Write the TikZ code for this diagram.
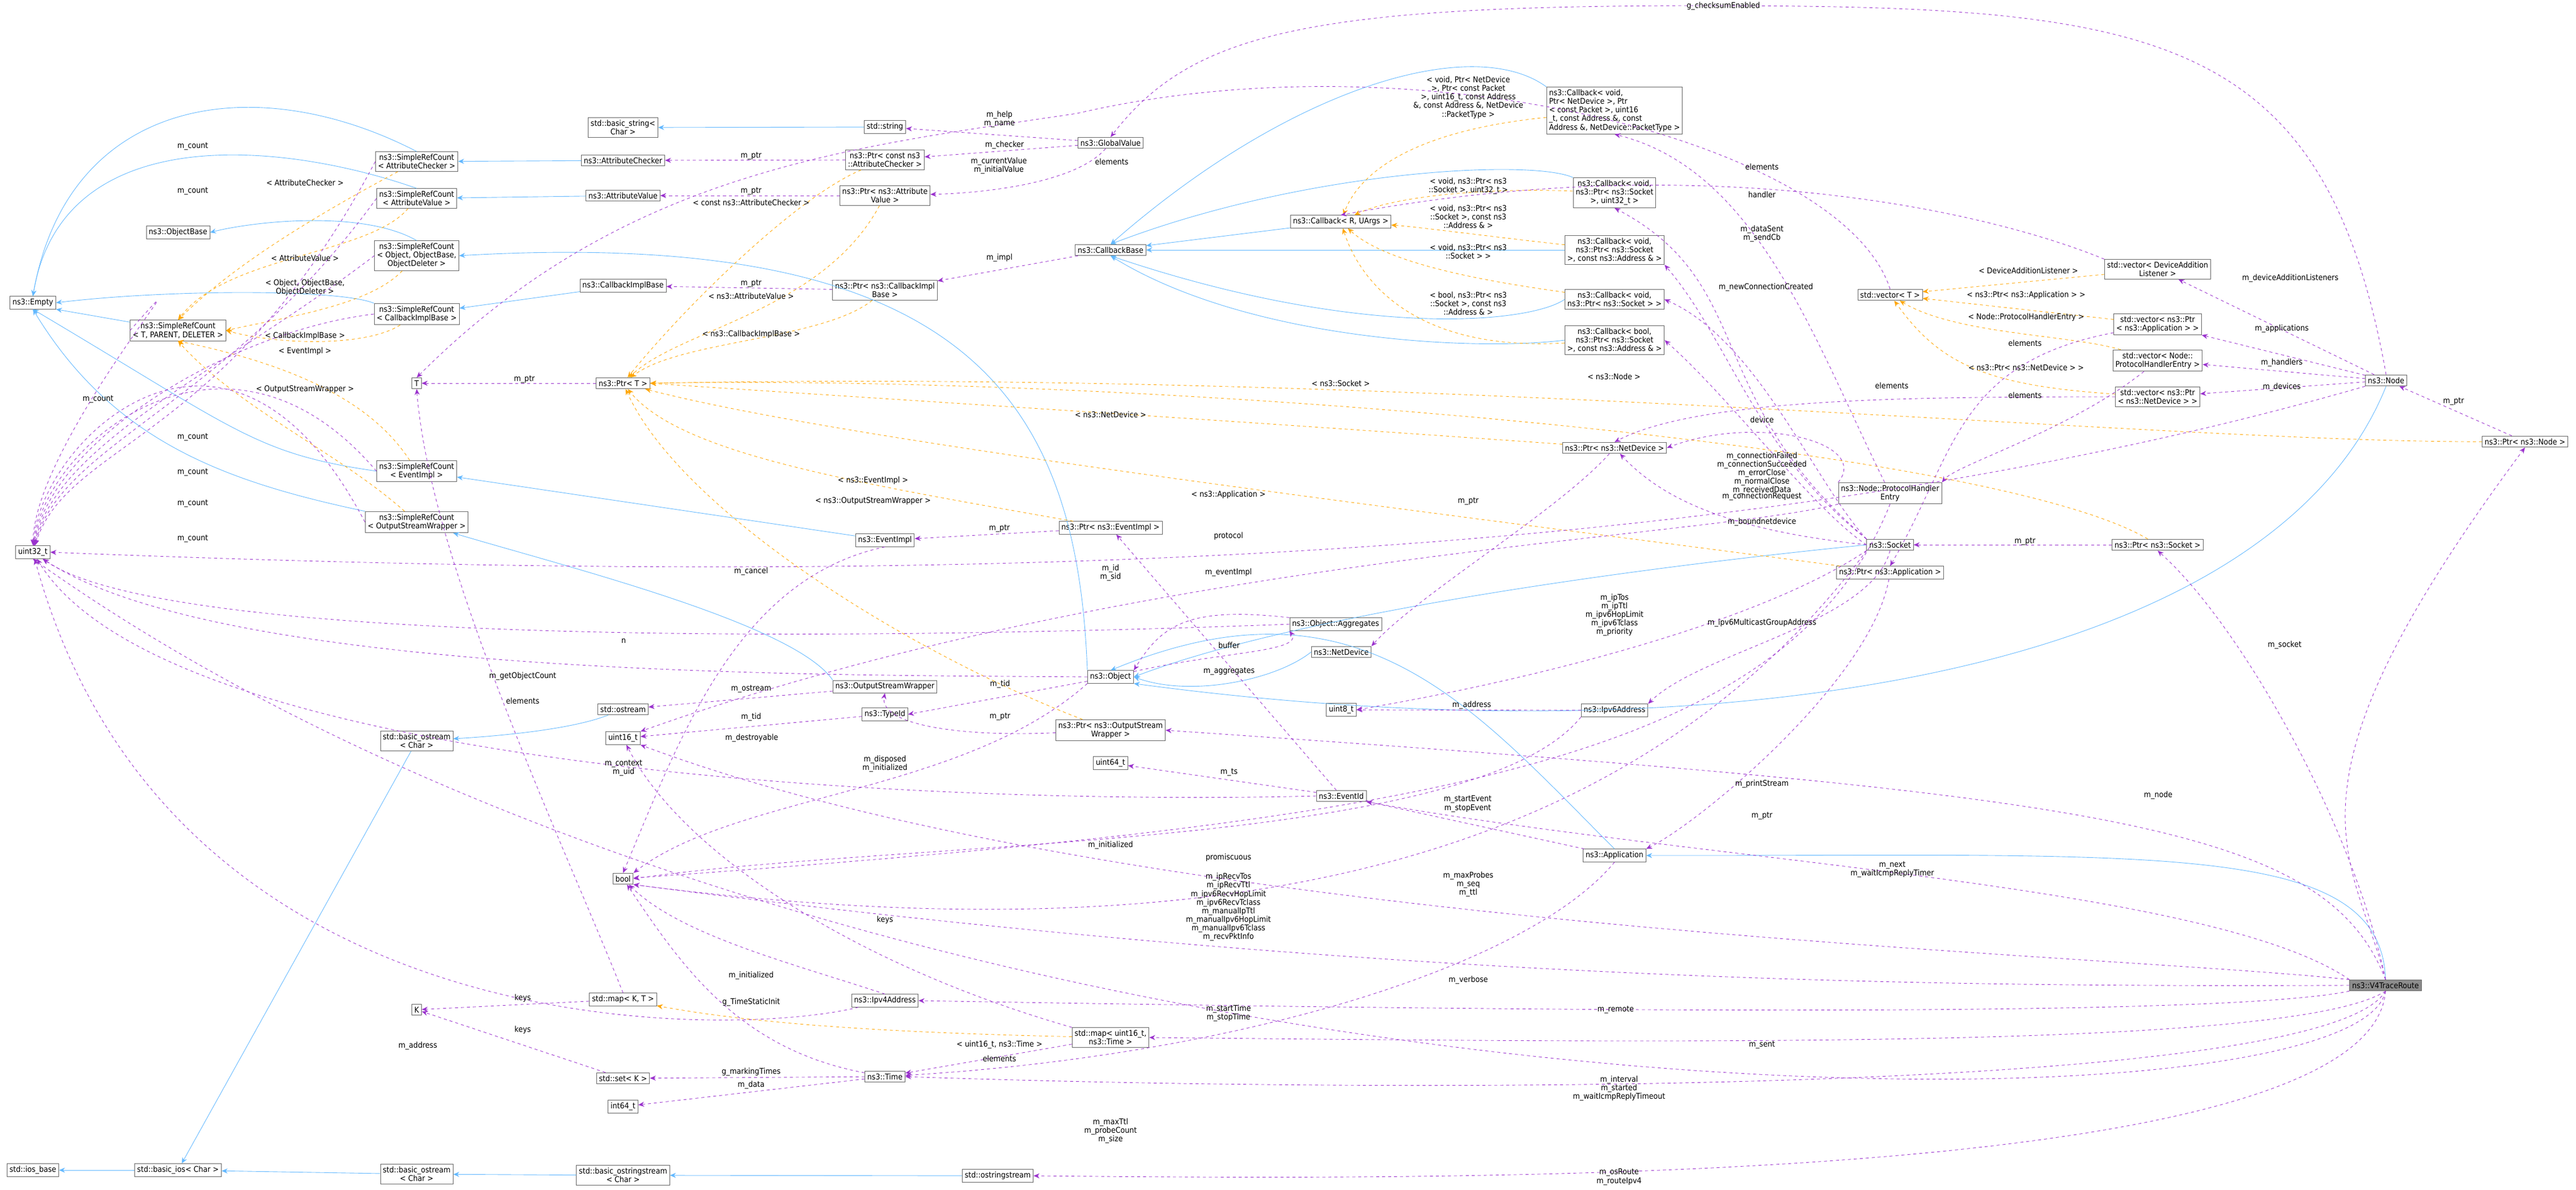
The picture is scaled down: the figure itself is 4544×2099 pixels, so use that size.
\documentclass[tikz,border=0pt]{standalone}
\usepackage{fontspec}
\setmainfont{DejaVu Sans Condensed}
\usepackage{xcolor}
\usetikzlibrary{arrows.meta,positioning}

\definecolor{inhblue}{RGB}{99,184,255}
\definecolor{usepurple}{RGB}{154,50,205}
\definecolor{tplorange}{RGB}{255,165,0}

\tikzset{
  cls/.style={draw=black!60, fill=white, inner sep=2.5pt, align=center, font=\fontsize{8}{8.6}\selectfont, line width=0.5pt},
  this/.style={cls, fill=black!45},
  lbl/.style={align=center, font=\fontsize{8}{8.6}\selectfont, inner sep=0pt},
  inh/.style={draw=inhblue, line width=0.5pt, -{Stealth[length=6pt,width=5pt]}},
  use/.style={draw=usepurple, dashed, line width=0.5pt, -{Stealth[length=6pt,width=5pt]}},
  tpl/.style={draw=tplorange, dashed, line width=0.5pt, -{Stealth[length=6pt,width=5pt]}}
}

\begin{document}
\begin{tikzpicture}[x=0.02cm, y=-0.02cm]
\useasboundingbox (0,0) rectangle (4544,2099);

% classes, column by column
\node[cls] (empty) at (58,534) {ns3::Empty};
\node[cls] (u32) at (58,974) {uint32\_t};
\node[cls] (iosbase) at (58,2064) {std::ios\_base};
\node[cls] (objbase) at (314,410) {ns3::ObjectBase};
\node[cls] (srctpd) at (314,583) {ns3::SimpleRefCount\\< T, PARENT, DELETER >};
\node[cls] (basicios) at (314,2064) {std::basic\_ios< Char >};
\node[cls] (srcac) at (735,285) {ns3::SimpleRefCount\\< AttributeChecker >};
\node[cls] (srcav) at (735,350) {ns3::SimpleRefCount\\< AttributeValue >};
\node[cls] (srcobj) at (735,451) {ns3::SimpleRefCount\\< Object, ObjectBase,\\ObjectDeleter >};
\node[cls] (srccib) at (735,554) {ns3::SimpleRefCount\\< CallbackImplBase >};
\node[cls] (tT) at (735,676) {T};
\node[cls] (srcei) at (735,831) {ns3::SimpleRefCount\\< EventImpl >};
\node[cls] (srcosw) at (735,921) {ns3::SimpleRefCount\\< OutputStreamWrapper >};
\node[cls] (bostra) at (735,1307) {std::basic\_ostream\\< Char >};
\node[cls] (kK) at (735,1781) {K};
\node[cls] (bostrb) at (735,2071) {std::basic\_ostream\\< Char >};
\node[cls] (bstr) at (1099,225) {std::basic\_string<\\Char >};
\node[cls] (achk) at (1099,283) {ns3::AttributeChecker};
\node[cls] (aval) at (1099,345) {ns3::AttributeValue};
\node[cls] (cib) at (1099,504) {ns3::CallbackImplBase};
\node[cls] (ptrT) at (1099,676) {ns3::Ptr< T >};
\node[cls] (ostr) at (1099,1251) {std::ostream};
\node[cls] (u16) at (1099,1302) {uint16\_t};
\node[cls] (bool) at (1099,1550) {bool};
\node[cls] (mapKT) at (1099,1763) {std::map< K, T >};
\node[cls] (setK) at (1099,1902) {std::set< K >};
\node[cls] (i64) at (1099,1952) {int64\_t};
\node[cls] (bostrs) at (1099,2073) {std::basic\_ostringstream\\< Char >};
\node[cls] (sstr) at (1561,224) {std::string};
\node[cls] (ptrac) at (1561,282) {ns3::Ptr< const ns3\\::AttributeChecker >};
\node[cls] (ptrav) at (1561,345) {ns3::Ptr< ns3::Attribute\\Value >};
\node[cls] (ptrcib) at (1561,512) {ns3::Ptr< ns3::CallbackImpl\\Base >};
\node[cls] (evimpl) at (1561,953) {ns3::EventImpl};
\node[cls] (osw) at (1561,1211) {ns3::OutputStreamWrapper};
\node[cls] (typeid) at (1561,1260) {ns3::TypeId};
\node[cls] (ipv4) at (1561,1765) {ns3::Ipv4Address};
\node[cls] (time) at (1561,1899) {ns3::Time};
\node[cls] (osstr) at (1760,2074) {std::ostringstream};
\node[cls] (gv) at (1959,252) {ns3::GlobalValue};
\node[cls] (cbbase) at (1959,441) {ns3::CallbackBase};
\node[cls] (ptrei) at (1959,931) {ns3::Ptr< ns3::EventImpl >};
\node[cls] (obj) at (1959,1194) {ns3::Object};
\node[cls] (ptrosw) at (1959,1288) {ns3::Ptr< ns3::OutputStream\\Wrapper >};
\node[cls] (u64) at (1959,1346) {uint64\_t};
\node[cls] (mapu16) at (1959,1830) {std::map< uint16\_t,\\ns3::Time >};
\node[cls] (cbR) at (2365,391) {ns3::Callback< R, UArgs >};
\node[cls] (aggr) at (2356,1101) {ns3::Object::Aggregates};
\node[cls] (netdev) at (2366,1150) {ns3::NetDevice};
\node[cls] (u8) at (2366,1252) {uint8\_t};
\node[cls] (evid) at (2366,1404) {ns3::EventId};
\node[cls, align=left] (cbnd) at (2848,195) {ns3::Callback< void,\\ Ptr< NetDevice >, Ptr\\< const Packet >, uint16\\\_t, const Address \&, const\\ Address \&, NetDevice::PacketType >};
\node[cls] (cbu32) at (2848,340) {ns3::Callback< void,\\ns3::Ptr< ns3::Socket\\>, uint32\_t >};
\node[cls] (cbaddr) at (2848,441) {ns3::Callback< void,\\ns3::Ptr< ns3::Socket\\>, const ns3::Address \& >};
\node[cls] (cbsock) at (2848,528) {ns3::Callback< void,\\ns3::Ptr< ns3::Socket > >};
\node[cls] (cbbool) at (2848,600) {ns3::Callback< bool,\\ns3::Ptr< ns3::Socket\\>, const ns3::Address \& >};
\node[cls] (ptrnd) at (2848,790) {ns3::Ptr< ns3::NetDevice >};
\node[cls] (ipv6) at (2848,1253) {ns3::Ipv6Address};
\node[cls] (app) at (2848,1509) {ns3::Application};
\node[cls] (vecT) at (3334,520) {std::vector< T >};
\node[cls] (phe) at (3334,870) {ns3::Node::ProtocolHandler\\Entry};
\node[cls] (sock) at (3334,961) {ns3::Socket};
\node[cls] (ptrapp) at (3334,1010) {ns3::Ptr< ns3::Application >};
\node[cls] (vecdal) at (3806,475) {std::vector< DeviceAddition\\Listener >};
\node[cls] (vecapp) at (3806,572) {std::vector< ns3::Ptr\\< ns3::Application > >};
\node[cls] (vecphe) at (3806,636) {std::vector< Node::\\ProtocolHandlerEntry >};
\node[cls] (vecnd) at (3806,700) {std::vector< ns3::Ptr\\< ns3::NetDevice > >};
\node[cls] (ptrsock) at (3806,961) {ns3::Ptr< ns3::Socket >};
\node[cls] (node) at (4209,671) {ns3::Node};
\node[cls] (ptrnode) at (4454,779) {ns3::Ptr< ns3::Node >};
\node[this] (trace) at (4208,1738) {ns3::V4TraceRoute};

% inheritance
\draw[inh] (srcac.north) .. controls (450,120) and (120,170) .. (empty.north);
\draw[inh] (srcav.north) .. controls (500,250) and (110,210) .. (empty.north);
\draw[inh] (srcobj.north) .. controls (640,370) and (450,390) .. (objbase.east);
\draw[inh] (srccib.north west) .. controls (600,510) and (300,510) .. (empty.east);
\draw[inh] (srctpd) -- (empty.south east);
\draw[inh] (srcei.west) .. controls (450,800) and (420,760) .. (empty.south);
\draw[inh] (srcosw.north west) .. controls (400,850) and (200,780) .. (empty.south);
\draw[inh] (achk) -- (srcac);
\draw[inh] (aval) -- (srcav);
\draw[inh] (cib) -- (srccib);
\draw[inh] (sstr) -- (bstr);
\draw[inh] (obj.north west) .. controls (1900,700) and (1700,400) .. (srcobj.east);
\draw[inh] (evimpl) -- (srcei);
\draw[inh] (osw.north west) .. controls (1400,1100) and (1000,1000) .. (srcosw);
\draw[inh] (cbR) -- (cbbase);
\draw[inh] (cbnd.north west) .. controls (2600,60) and (2280,150) .. (cbbase.north);
\draw[inh] (cbu32.north west) .. controls (2700,280) and (2300,300) .. (cbbase.north);
\draw[inh] (cbaddr) -- (cbbase);
\draw[inh] (cbsock.west) .. controls (2700,570) and (2400,600) .. (cbbase.south);
\draw[inh] (cbbool.west) .. controls (2600,620) and (2200,600) .. (cbbase.south);
\draw[inh] (netdev.west) .. controls (2250,1200) and (2100,1230) .. (obj.east);
\draw[inh] (sock.west) .. controls (2900,1000) and (2300,1080) .. (obj.east);
\draw[inh] (app.north) .. controls (2600,1250) and (2400,1000) .. (obj.north);
\draw[inh] (node.south) .. controls (4000,1200) and (3000,1340) .. (obj.south east);
\draw[inh] (trace.north) .. controls (4200,1480) and (3800,1510) .. (app.east);
\draw[inh] (ostr) .. controls (1000,1290) and (850,1300) .. (bostra);
\draw[inh] (bostra) -- (basicios);
\draw[inh] (basicios) -- (iosbase);
\draw[inh] (bostrb) -- (basicios);
\draw[inh] (bostrs) -- (bostrb);
\draw[inh] (osstr) -- (bostrs);

% template instances
\draw[tpl] (srcac) .. controls (520,400) and (400,480) .. (srctpd.north);
\draw[tpl] (srcav) .. controls (650,450) and (400,450) .. (srctpd.north);
\draw[tpl] (srcobj) .. controls (650,540) and (500,560) .. (srctpd.east);
\draw[tpl] (srccib) .. controls (650,610) and (500,610) .. (srctpd.east);
\draw[tpl] (srcei) .. controls (650,700) and (500,640) .. (srctpd.south);
\draw[tpl] (srcosw) .. controls (600,800) and (420,720) .. (srctpd.south);
\draw[tpl] (ptrac) .. controls (1400,350) and (1200,550) .. (ptrT);
\draw[tpl] (ptrav) .. controls (1450,550) and (1200,580) .. (ptrT);
\draw[tpl] (ptrcib) .. controls (1450,600) and (1200,600) .. (ptrT);
\draw[tpl] (ptrei) .. controls (1500,850) and (1200,800) .. (ptrT);
\draw[tpl] (ptrosw) .. controls (1600,1150) and (1200,900) .. (ptrT);
\draw[tpl] (ptrnd) .. controls (2000,730) and (1500,700) .. (ptrT.east);
\draw[tpl] (ptrsock) .. controls (3500,780) and (2000,660) .. (ptrT.east);
\draw[tpl] (ptrnode) .. controls (3800,780) and (2500,650) .. (ptrT.east);
\draw[tpl] (ptrapp) .. controls (2500,900) and (1500,780) .. (ptrT);
\draw[tpl] (cbnd) .. controls (2500,230) and (2400,300) .. (cbR);
\draw[tpl] (cbu32) .. controls (2600,330) and (2450,350) .. (cbR);
\draw[tpl] (cbaddr) .. controls (2650,420) and (2500,400) .. (cbR);
\draw[tpl] (cbsock) .. controls (2650,500) and (2450,470) .. (cbR);
\draw[tpl] (cbbool) .. controls (2500,620) and (2400,500) .. (cbR);
\draw[tpl] (vecdal) -- (vecT);
\draw[tpl] (vecapp) -- (vecT);
\draw[tpl] (vecphe) .. controls (3650,590) and (3450,590) .. (vecT);
\draw[tpl] (vecnd) .. controls (3500,680) and (3420,640) .. (vecT);
\draw[tpl] (mapu16) .. controls (1500,1820) and (1300,1800) .. (mapKT);

% members
\foreach \src/\cx in {srcac/120,srcav/110,srcobj/100,srccib/90,srcei/80,srcosw/70,srctpd/60}
  \draw[use] (\src.west) .. controls (400,{\cx*6.5}) and (\cx,780) .. (u32);
\draw[use] (ptrT) -- (tT);
\draw[use] (ptrac) -- (achk);
\draw[use] (ptrav) -- (aval);
\draw[use] (ptrcib) -- (cib);
\draw[use] (ptrei) -- (evimpl);
\draw[use] (cbbase) -- (ptrcib);
\draw[use] (gv) -- (sstr);
\draw[use] (gv) -- (ptrac);
\draw[use] (gv) .. controls (1900,320) and (1750,340) .. (ptrav);
\draw[use] (node.north) .. controls (4100,50) and (3800,10) .. (3000,10) .. controls (2300,10) and (2100,60) .. (gv.north);
\draw[use] (vecT.north) .. controls (3250,250) and (2500,60) .. (1900,200) .. controls (1500,260) and (1100,300) .. (tT.north);
\draw[use] (mapKT.north) .. controls (1000,1500) and (760,1000) .. (tT.south);
\draw[use] (mapKT) -- (kK);
\draw[use] (setK) -- (kK);
\draw[use] (vecdal.north west) .. controls (3500,370) and (3000,260) .. (cbR.north);
\draw[use] (vecapp) .. controls (3450,640) and (3450,800) .. (ptrapp.north);
\draw[use] (vecphe) .. controls (3650,760) and (3450,820) .. (phe.north east);
\draw[use] (vecnd) .. controls (3400,700) and (3000,700) .. (ptrnd.north);
\draw[use] (node) -- (vecdal);
\draw[use] (node) -- (vecapp);
\draw[use] (node) -- (vecphe);
\draw[use] (node) -- (vecnd);
\draw[use] (ptrnode) -- (node);
\draw[use] (ptrsock) -- (sock);
\draw[use] (ptrapp) .. controls (3300,1200) and (3000,1450) .. (app.north east);
\draw[use] (ptrnd) .. controls (2750,900) and (2500,1050) .. (netdev.north east);
\draw[use] (phe) .. controls (3200,600) and (3100,300) .. (cbnd.south);
\draw[use] (phe.north west) .. controls (3300,780) and (3100,730) .. (ptrnd.east);
\draw[use] (phe.south west) .. controls (3000,950) and (2000,980) .. (u16.north east);
\draw[use] (phe.south) .. controls (3150,1350) and (2500,1450) .. (bool);
\draw[use] (sock.north west) .. controls (3000,700) and (3100,500) .. (cbu32.south);
\draw[use] (sock.north west) .. controls (3100,800) and (3050,600) .. (cbaddr.south east);
\draw[use] (sock.north west) .. controls (3200,850) and (3100,600) .. (cbsock.east);
\draw[use] (sock.west) .. controls (3200,900) and (3050,700) .. (cbbool.east);
\draw[use] (sock.west) .. controls (3100,940) and (2950,900) .. (ptrnd);
\draw[use] (sock.south west) .. controls (3100,1100) and (2700,1200) .. (u8.east);
\draw[use] (sock.south) .. controls (3300,1100) and (3000,1150) .. (ipv6.north east);
\draw[use] (sock.south west) .. controls (2900,1500) and (2200,1700) .. (bool.south east);
\draw[use] (ipv6) -- (u8);
\draw[use] (ipv6.south west) .. controls (2600,1500) and (1600,1480) .. (bool.east);
\draw[use] (obj) .. controls (2150,1150) and (2300,1150) .. (aggr.south west);
\draw[use] (aggr.north west) .. controls (2100,1070) and (2050,1100) .. (obj.north east);
\draw[use] (aggr.west) .. controls (1500,1130) and (300,1140) .. (u32);
\draw[use] (obj.west) .. controls (1500,1190) and (400,1200) .. (u32);
\draw[use] (obj) -- (typeid.east);
\draw[use] (obj.south west) .. controls (1700,1400) and (1300,1400) .. (bool.north east);
\draw[use] (osw) -- (ostr);
\draw[use] (typeid) -- (u16);
\draw[use] (ptrosw) .. controls (1700,1300) and (1550,1280) .. (osw.south);
\draw[use] (evid) -- (ptrei);
\draw[use] (evid) -- (u64);
\draw[use] (evid.west) .. controls (1700,1420) and (300,1370) .. (u32);
\draw[use] (evimpl.south) .. controls (1300,1020) and (1200,1300) .. (bool.north);
\draw[use] (node.south west) .. controls (3000,1020) and (1500,1030) .. (u32.east);
\draw[use] (ipv4) .. controls (1300,1830) and (300,1860) .. (u32);
\draw[use] (ipv4.north) .. controls (1400,1700) and (1200,1650) .. (bool);
\draw[use] (time) .. controls (1300,1850) and (1200,1700) .. (bool);
\draw[use] (time) -- (setK);
\draw[use] (time) -- (i64);
\draw[use] (mapu16) -- (time);
\draw[use] (mapu16.north west) .. controls (1500,1700) and (1200,1500) .. (u16);
\draw[use] (app) -- (evid);
\draw[use] (app.south) .. controls (2700,1700) and (2200,1860) .. (time);
\draw[use] (trace.north) .. controls (4100,1450) and (3700,1400) .. (ptrosw.east);
\draw[use] (trace.north) .. controls (4150,1500) and (4000,1400) .. (ptrnode.south);
\draw[use] (trace.north) .. controls (4150,1450) and (3950,1100) .. (ptrsock.south);
\draw[use] (trace.north west) .. controls (3900,1560) and (3000,1520) .. (evid.south east);
\draw[use] (trace.north west) .. controls (3700,1680) and (2000,1640) .. (u16.south east);
\draw[use] (trace.west) .. controls (3500,1740) and (2500,1740) .. (bool.south east);
\draw[use] (trace.south west) .. controls (3900,1800) and (2500,1780) .. (ipv4.east);
\draw[use] (trace.south) .. controls (4050,1850) and (3000,1840) .. (mapu16.east);
\draw[use] (trace.south) .. controls (4100,1930) and (2500,1930) .. (time.east);
\draw[use] (trace.south) .. controls (4150,2030) and (1500,2010) .. (u32.south);
\draw[use] (trace.south) .. controls (4180,2100) and (2500,2080) .. (osstr.east);

% member names
\node[lbl] at (340,258) {m\_count};
\node[lbl] at (340,337) {m\_count};
\node[lbl] at (173,704) {m\_count};
\node[lbl] at (340,771) {m\_count};
\node[lbl] at (340,833) {m\_count};
\node[lbl] at (340,888) {m\_count};
\node[lbl] at (340,950) {m\_count};
\node[lbl] at (538,322) {< AttributeChecker >};
\node[lbl] at (538,455) {< AttributeValue >};
\node[lbl] at (538,507) {< Object, ObjectBase,\\ObjectDeleter >};
\node[lbl] at (538,593) {< CallbackImplBase >};
\node[lbl] at (538,620) {< EventImpl >};
\node[lbl] at (538,687) {< OutputStreamWrapper >};
\node[lbl] at (925,669) {m\_ptr};
\node[lbl] at (1325,275) {m\_ptr};
\node[lbl] at (1325,337) {m\_ptr};
\node[lbl] at (1325,357) {< const ns3::AttributeChecker >};
\node[lbl] at (1325,500) {m\_ptr};
\node[lbl] at (1325,522) {< ns3::AttributeValue >};
\node[lbl] at (1325,590) {< ns3::CallbackImplBase >};
\node[lbl] at (1540,848) {< ns3::EventImpl >};
\node[lbl] at (1540,884) {< ns3::OutputStreamWrapper >};
\node[lbl] at (1763,210) {m\_help\\m\_name};
\node[lbl] at (1772,256) {m\_checker};
\node[lbl] at (1762,292) {m\_currentValue\\m\_initialValue};
\node[lbl] at (1961,285) {elements};
\node[lbl] at (1763,455) {m\_impl};
\node[lbl] at (2590,172) {< void, Ptr< NetDevice\\>, Ptr< const Packet\\>, uint16\_t, const Address\\\&, const Address \&, NetDevice\\::PacketType >};
\node[lbl] at (2590,328) {< void, ns3::Ptr< ns3\\::Socket >, uint32\_t >};
\node[lbl] at (2590,382) {< void, ns3::Ptr< ns3\\::Socket >, const ns3\\::Address \& >};
\node[lbl] at (2590,444) {< void, ns3::Ptr< ns3\\::Socket > >};
\node[lbl] at (2590,535) {< bool, ns3::Ptr< ns3\\::Socket >, const ns3\\::Address \& >};
\node[lbl] at (2365,676) {< ns3::Socket >};
\node[lbl] at (2847,664) {< ns3::Node >};
\node[lbl] at (1959,731) {< ns3::NetDevice >};
\node[lbl] at (2167,873) {< ns3::Application >};
\node[lbl] at (1763,932) {m\_ptr};
\node[lbl] at (2590,884) {m\_ptr};
\node[lbl] at (2167,946) {protocol};
\node[lbl] at (2167,1010) {m\_eventImpl};
\node[lbl] at (1959,1010) {m\_id\\m\_sid};
\node[lbl] at (1325,1008) {m\_cancel};
\node[lbl] at (3040,11) {g\_checksumEnabled};
\node[lbl] at (3108,294) {elements};
\node[lbl] at (3108,343) {handler};
\node[lbl] at (3108,412) {m\_dataSent\\m\_sendCb};
\node[lbl] at (3115,507) {m\_newConnectionCreated};
\node[lbl] at (3337,680) {elements};
\node[lbl] at (3108,740) {device};
\node[lbl] at (3108,835) {m\_connectionFailed\\m\_connectionSucceeded\\m\_errorClose\\m\_normalClose\\m\_receivedData};
\node[lbl] at (3108,876) {m\_connectionRequest};
\node[lbl] at (3108,921) {m\_boundnetdevice};
\node[lbl] at (3578,477) {< DeviceAdditionListener >};
\node[lbl] at (3574,521) {< ns3::Ptr< ns3::Application > >};
\node[lbl] at (3574,560) {< Node::ProtocolHandlerEntry >};
\node[lbl] at (3572,605) {elements};
\node[lbl] at (3574,648) {< ns3::Ptr< ns3::NetDevice > >};
\node[lbl] at (3572,697) {elements};
\node[lbl] at (4040,491) {m\_deviceAdditionListeners};
\node[lbl] at (4025,580) {m\_applications};
\node[lbl] at (4025,640) {m\_handlers};
\node[lbl] at (4025,683) {m\_devices};
\node[lbl] at (4328,708) {m\_ptr};
\node[lbl] at (3572,955) {m\_ptr};
\node[lbl] at (1100,1131) {n};
\node[lbl] at (922,1193) {m\_getObjectCount};
\node[lbl] at (922,1236) {elements};
\node[lbl] at (1325,1215) {m\_ostream};
\node[lbl] at (1325,1265) {m\_tid};
\node[lbl] at (1326,1302) {m\_destroyable};
\node[lbl] at (1100,1355) {m\_context\\m\_uid};
\node[lbl] at (922,1761) {keys};
\node[lbl] at (922,1817) {keys};
\node[lbl] at (737,1845) {m\_address};
\node[lbl] at (1325,1721) {m\_initialized};
\node[lbl] at (1325,1768) {g\_TimeStaticInit};
\node[lbl] at (1325,1891) {g\_markingTimes};
\node[lbl] at (1325,1914) {m\_data};
\node[lbl] at (2168,1138) {buffer};
\node[lbl] at (2168,1184) {m\_aggregates};
\node[lbl] at (1764,1207) {m\_tid};
\node[lbl] at (1764,1264) {m\_ptr};
\node[lbl] at (1561,1347) {m\_disposed\\m\_initialized};
\node[lbl] at (2168,1362) {m\_ts};
\node[lbl] at (2596,1244) {m\_address};
\node[lbl] at (2848,1085) {m\_ipTos\\m\_ipTtl\\m\_ipv6HopLimit\\m\_ipv6Tclass\\m\_priority};
\node[lbl] at (3108,1099) {m\_ipv6MulticastGroupAddress};
\node[lbl] at (1959,1491) {m\_initialized};
\node[lbl] at (2167,1513) {promiscuous};
\node[lbl] at (2589,1418) {m\_startEvent\\m\_stopEvent};
\node[lbl] at (2167,1600) {m\_ipRecvTos\\m\_ipRecvTtl\\m\_ipv6RecvHopLimit\\m\_ipv6RecvTclass\\m\_manualIpTtl\\m\_manualIpv6HopLimit\\m\_manualIpv6Tclass\\m\_recvPktInfo};
\node[lbl] at (2590,1560) {m\_maxProbes\\m\_seq\\m\_ttl};
\node[lbl] at (1561,1623) {keys};
\node[lbl] at (2590,1729) {m\_verbose};
\node[lbl] at (2167,1787) {m\_startTime\\m\_stopTime};
\node[lbl] at (2850,1781) {m\_remote};
\node[lbl] at (1763,1843) {< uint16\_t, ns3::Time >};
\node[lbl] at (1763,1867) {elements};
\node[lbl] at (3108,1843) {m\_sent};
\node[lbl] at (2856,1920) {m\_interval\\m\_started\\m\_waitIcmpReplyTimeout};
\node[lbl] at (1959,1995) {m\_maxTtl\\m\_probeCount\\m\_size};
\node[lbl] at (2856,2076) {m\_osRoute\\m\_routeIpv4};
\node[lbl] at (3108,1383) {m\_printStream};
\node[lbl] at (3108,1439) {m\_ptr};
\node[lbl] at (3807,1403) {m\_node};
\node[lbl] at (3338,1534) {m\_next\\m\_waitIcmpReplyTimer};
\node[lbl] at (4030,1138) {m\_socket};
\end{tikzpicture}
\end{document}
